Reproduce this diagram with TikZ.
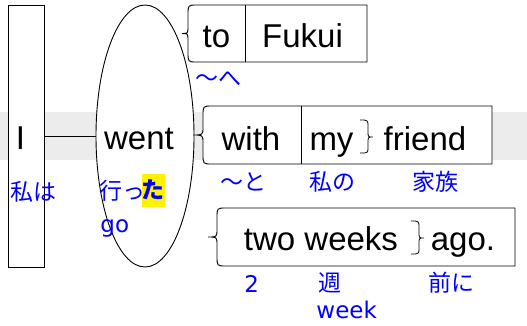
\documentclass[tikz,border=0pt]{standalone}
\usepackage{fontspec}
\setmainfont{Liberation Sans}
\newfontfamily\jp{Noto Sans CJK JP}
\newfontfamily\lat{DejaVu Sans}
\usepackage{tikz}
\usetikzlibrary{shapes.geometric}
\tikzset{
	word/.style={font=\fontsize{33}{38}\selectfont,anchor=base,inner sep=0pt},
	gloss/.style={text=blue,font=\fontsize{23}{28}\selectfont\jp,inner sep=0pt},
	glosslat/.style={text=blue,font=\fontsize{23}{28}\selectfont\lat,inner sep=0pt,anchor=base west},
}

\begin{document}
\begin{tikzpicture}[x=1pt,y=-1pt,line width=0.9pt]
	\useasboundingbox (0,0) rectangle (527,325);
	\fill[gray!15] (0,112) rectangle (527,160);
	% subject and verb
	\node[draw,fill=white,minimum width=36pt,minimum height=262pt] (Ibox) at (26,136) {};
	\node[draw,fill=white,ellipse,inner sep=0pt,minimum width=98pt,minimum height=262pt] (went) at (145,136) {};
	\draw (Ibox.east) -- (went.west);
	\node[word] (I) at (20.5,149) {I};
	\node[word] (wentw) at (139,149) {went};
	% braced boxes
	\draw[fill=white] (197,5) .. controls (188,5) .. (188,15) -- (188,26) .. controls (188,33.5) .. (182,33.5)
		.. controls (188,33.5) .. (188,41) -- (188,52) .. controls (188,62) .. (197,62) -- (367,62) -- (367,5) -- cycle;
	\draw (245,5) -- (245,62);
	\draw[fill=white] (212,106) .. controls (203,106) .. (203,116) -- (203,127) .. controls (203,135) .. (193,135)
		.. controls (203,135) .. (203,143) -- (203,154) .. controls (203,164) .. (212,164) -- (492,164) -- (492,106) -- cycle;
	\draw (301,106) -- (301,164);
	\draw[fill=white] (226,208) .. controls (217,208) .. (217,218) -- (217,229) .. controls (217,237) .. (208,237)
		.. controls (217,237) .. (217,245) -- (217,256) .. controls (217,266) .. (226,266) -- (515,266) -- (515,208) -- cycle;
	% inner braces
	\draw[line width=0.8pt] (360,120) .. controls (368,120) .. (368,127) -- (368,131) .. controls (368,137) .. (373,137)
		.. controls (368,137) .. (368,143) -- (368,147) .. controls (368,153) .. (360,153);
	\draw[line width=0.8pt] (411,221) .. controls (419,221) .. (419,228) -- (419,232) .. controls (419,238) .. (424,238)
		.. controls (419,238) .. (419,244) -- (419,248) .. controls (419,254) .. (411,254);
	\node[word] (to) at (216.5,47) {to};
	\node[word] (fukui) at (302.5,47) {Fukui};
	\node[word] (with) at (251,150) {with};
	\node[word] (my) at (331.5,150) {my};
	\node[word] (friend) at (425,150) {friend};
	\node[word] (twoweeks) at (321,250) {two weeks};
	\node[word] (ago) at (463,250) {ago.};
	% glosses
	\node[gloss] (watashiwa) at (33,192) {私は};
	\node[gloss,anchor=west] (itt) at (99,191) {行っ};
	\node[gloss,fill=yellow,font=\fontsize{23}{28}\selectfont\jp\bfseries,minimum width=22pt,minimum height=33pt] (ta) at (153,190) {た};
	\node[glosslat] (go) at (100,232) {go};
	\node[gloss] (he) at (218,79) {～へ};
	\node[gloss] (to2) at (243,182) {～と};
	\node[gloss] (watashino) at (332,182) {私の};
	\node[gloss] (kazoku) at (435,182) {家族};
	\node[glosslat] (two) at (244,292) {2};
	\node[gloss] (shuu) at (330,283) {週};
	\node[glosslat] (week) at (316,318) {week};
	\node[gloss] (maeni) at (451,283) {前に};
\end{tikzpicture}
\end{document}
